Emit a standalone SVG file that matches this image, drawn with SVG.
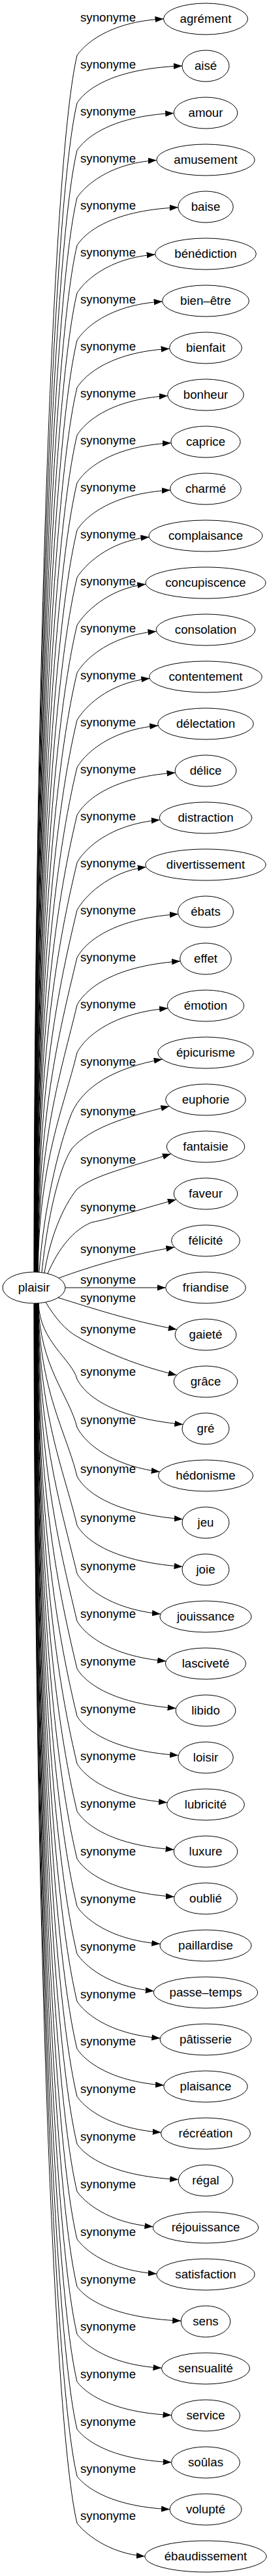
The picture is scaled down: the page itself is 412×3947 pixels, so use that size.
<svg xmlns="http://www.w3.org/2000/svg" width="412" height="3947" viewBox="0 0 412 3947">
<style>
text{font-family:"Liberation Sans",Arial,sans-serif;font-size:18.67px;fill:#000;text-anchor:middle}
.n ellipse{fill:none;stroke:#000;stroke-width:1}
#edges path{fill:none;stroke:#000;stroke-width:1;marker-end:url(#arr)}
</style>
<defs>
<marker id="arr" markerUnits="userSpaceOnUse" markerWidth="14" markerHeight="10" refX="13" refY="4.67" orient="auto"><path d="M0,0L13,4.67L0,9.33z" fill="#000"/></marker>
</defs>
<rect width="412" height="3947" fill="#fff"/>
<g id="edges">
<path d="M52,1949 C53,1017 82,235 118,85 C128,70 165,33 250.5,29"/>
<path d="M52.3,1949 C53.3,1053 82,308 118,158 C128,142 165,105 279,101"/>
<path d="M52.6,1949 C53.6,1090 82,380 118,230.5 C128,215 165,178 266.2,173.4"/>
<path d="M52.9,1949 C53.9,1126 82,453 118,303 C128,287.5 165,250 239.8,245.6"/>
<path d="M53.2,1949 C54.2,1162 82,526 118,376 C128,360 165,322.5 272.8,317.8"/>
<path d="M53.5,1949 C54.5,1199 82,599 118,449 C128,432.6 165,395 237.6,390"/>
<path d="M53.8,1949 C54.8,1235 82,671.5 118,521.5 C128,505 165,467 248.6,462"/>
<path d="M54.1,1949 C55.1,1271.6 82,744 118,594 C128,577.7 165,539.6 259.6,534.3"/>
<path d="M54.4,1949 C55.4,1308 82,817 118,667 C128,650 165,612 256.8,606.5"/>
<path d="M54.7,1949 C55.7,1344 82,890 118,740 C128,723 165,684 261.9,678.7"/>
<path d="M55,1949 C56,1381 82,962.5 118,812.5 C128,795.4 165,756.8 260.9,750.9"/>
<path d="M55.3,1949 C56.3,1417 82,1035 118,885 C128,868 165,829 228.4,823"/>
<path d="M55.6,1949 C56.6,1453.5 82,1108 118,958 C128,940.5 165,901.5 223.4,895.2"/>
<path d="M55.9,1949 C56.9,1490 82,1181 118,1031 C128,1013 165,974 239.5,967.4"/>
<path d="M56.2,1949 C57.2,1526 82,1253.5 118,1103.5 C128,1085.5 165,1046 229.3,1039.6"/>
<path d="M56.5,1949 C57.5,1562.6 82,1326 118,1176 C128,1158 165,1118.6 242.2,1111.8"/>
<path d="M56.8,1949 C57.8,1599 82,1399 118,1249 C128,1230.6 165,1191 268.5,1184"/>
<path d="M57.1,1949 C58.1,1635.4 82,1471.8 118,1321.8 C128,1303.2 165,1263.4 244.8,1256.2"/>
<path d="M57.4,1949 C58.4,1671.8 84.7,1533 118,1394.5 C128,1375.7 165,1335.8 223.8,1328.4"/>
<path d="M57.7,1949 C58.7,1708 89.1,1587.7 118,1467.3 C128,1448.3 165,1408.1 273,1400.6"/>
<path d="M58,1949 C59,1744.5 93.5,1642.3 118,1540 C128,1520.8 165,1480.5 276.2,1472.8"/>
<path d="M58.3,1949 C59.3,1780.9 97.8,1696.8 118,1612.8 C128,1593.4 165,1552.9 257.1,1544.9"/>
<path d="M60,1949.3 C66,1860 88,1760 110,1705 C128,1665 175,1636 248.6,1623"/>
<path d="M64,1949.8 C72,1870 90,1790 110,1760 C138,1728 190,1712 259.3,1695"/>
<path d="M68,1950.4 C76,1900 95,1850 118,1822 C145,1800 200,1788 261.8,1768"/>
<path d="M73,1951.4 C90,1912 112,1885 140,1873 C175,1866 225,1850 269.8,1838"/>
<path d="M90,1958.3 C140,1940 200,1922 267.4,1911"/>
<path d="M100,1973 L253.7,1973"/>
<path d="M89,1988.3 C140,2004 200,2024 270.8,2037"/>
<path d="M70,1995.3 C85,2020 100,2038 120,2049 C150,2066 200,2090 270.6,2107"/>
<path d="M59.2,1997 C60.2,2055 111,2084 118,2113 C128,2133.5 165,2172 280.3,2182.5"/>
<path d="M58.9,1997 C59.9,2092 106.6,2139.5 118,2187 C128,2207 165,2245 244.7,2255"/>
<path d="M58.6,1997 C59.6,2129.5 102.1,2195.7 118,2262 C128,2281.2 165,2318.5 279.9,2327.8"/>
<path d="M58.3,1997 C59.3,2167 97.6,2252 118,2337 C128,2355.4 165,2392 279.6,2400.5"/>
<path d="M58,1997 C59,2204 93.2,2307.5 118,2411 C128,2428.8 165,2465 245.9,2473"/>
<path d="M57.7,1997 C58.7,2240.4 88.8,2362.1 118,2483.8 C128,2501.4 165,2537.4 254.2,2545.2"/>
<path d="M57.4,1997 C58.4,2276.9 84.4,2416.7 118,2556.7 C128,2574.1 165,2609.9 269.6,2617.4"/>
<path d="M57.1,1997 C58.1,2313.3 82,2479.5 118,2629.5 C128,2646.6 165,2682.3 273.2,2689.6"/>
<path d="M56.8,1997 C57.8,2349.7 82,2552.3 118,2702.3 C128,2719.2 165,2754.7 256.1,2761.8"/>
<path d="M56.5,1997 C57.5,2386.1 82,2625.2 118,2775.2 C128,2791.9 165,2827.1 266.6,2834"/>
<path d="M56.2,1997 C57.2,2422.5 82,2698 118,2848 C128,2864.5 165,2899.5 266.9,2906.3"/>
<path d="M55.9,1997 C56.9,2458.9 82,2770.8 118,2920.8 C128,2937.1 165,2971.9 245.3,2978.5"/>
<path d="M55.6,1997 C56.6,2495.4 82,2843.7 118,2993.7 C128,3009.7 165,3044.4 235.8,3050.7"/>
<path d="M55.3,1997 C56.3,2531.8 82,2916.5 118,3066.5 C128,3082.3 165,3116.8 245.3,3122.9"/>
<path d="M55,1997 C56,2568.2 82,2989.3 118,3139.3 C128,3154.9 165,3189.2 251,3195.1"/>
<path d="M54.7,1997 C55.7,2604.6 82,3062.2 118,3212.2 C128,3227.5 165,3261.6 246.7,3267.3"/>
<path d="M54.4,1997 C55.4,2641 82,3135 118,3285 C128,3300.1 165,3334 273.3,3339.5"/>
<path d="M54.1,1997 C55.1,2677.4 82,3207.8 118,3357.8 C128,3372.7 165,3406.4 234.4,3411.7"/>
<path d="M53.8,1997 C54.8,2713.9 82,3280.7 118,3430.7 C128,3445.4 165,3478.9 239.9,3483.9"/>
<path d="M53.5,1997 C54.5,2750.3 82,3353.5 118,3503.5 C128,3517.9 165,3551.3 277.2,3556.1"/>
<path d="M53.2,1997 C54.2,2786.7 82,3426.3 118,3576.3 C128,3590.5 165,3623.7 247.5,3628.3"/>
<path d="M52.9,1997 C53.9,2823.1 82,3499.2 118,3649.2 C128,3663.2 165,3696.1 262.5,3700.6"/>
<path d="M52.6,1997 C53.6,2859.5 82,3572 118,3722 C128,3735.8 165,3768.5 262.6,3772.8"/>
<path d="M52.3,1997 C53.3,2895.5 82,3644 118,3794 C128,3807.8 165,3840.5 260,3844.8"/>
<path d="M52,1997 C53,2931.5 82,3716 118,3866 C128,3879.8 165,3912.5 221.9,3916.8"/>
</g>
<g id="edge-labels">
<text x="165.5" y="33">synonyme</text>
<text x="165.5" y="105">synonyme</text>
<text x="165.5" y="177">synonyme</text>
<text x="165.5" y="249">synonyme</text>
<text x="165.5" y="321">synonyme</text>
<text x="165.5" y="393">synonyme</text>
<text x="165.5" y="465">synonyme</text>
<text x="165.5" y="537">synonyme</text>
<text x="165.5" y="609">synonyme</text>
<text x="165.5" y="681">synonyme</text>
<text x="165.5" y="753">synonyme</text>
<text x="165.5" y="825">synonyme</text>
<text x="165.5" y="897">synonyme</text>
<text x="165.5" y="969">synonyme</text>
<text x="165.5" y="1041">synonyme</text>
<text x="165.5" y="1113">synonyme</text>
<text x="165.5" y="1185">synonyme</text>
<text x="165.5" y="1257">synonyme</text>
<text x="165.5" y="1329">synonyme</text>
<text x="165.5" y="1401">synonyme</text>
<text x="165.5" y="1473">synonyme</text>
<text x="165.5" y="1545">synonyme</text>
<text x="165.5" y="1633">synonyme</text>
<text x="165.5" y="1709">synonyme</text>
<text x="165.5" y="1783">synonyme</text>
<text x="165.5" y="1856">synonyme</text>
<text x="165.5" y="1920">synonyme</text>
<text x="165.5" y="1966.7">synonyme</text>
<text x="165.5" y="1995">synonyme</text>
<text x="165.5" y="2043">synonyme</text>
<text x="165.5" y="2108">synonyme</text>
<text x="165.5" y="2182">synonyme</text>
<text x="165.5" y="2257">synonyme</text>
<text x="165.5" y="2332">synonyme</text>
<text x="165.5" y="2406">synonyme</text>
<text x="165.5" y="2478.8">synonyme</text>
<text x="165.5" y="2551.7">synonyme</text>
<text x="165.5" y="2624.5">synonyme</text>
<text x="165.5" y="2697.3">synonyme</text>
<text x="165.5" y="2770.2">synonyme</text>
<text x="165.5" y="2843">synonyme</text>
<text x="165.5" y="2915.8">synonyme</text>
<text x="165.5" y="2988.7">synonyme</text>
<text x="165.5" y="3061.5">synonyme</text>
<text x="165.5" y="3134.3">synonyme</text>
<text x="165.5" y="3207.2">synonyme</text>
<text x="165.5" y="3280">synonyme</text>
<text x="165.5" y="3352.8">synonyme</text>
<text x="165.5" y="3425.7">synonyme</text>
<text x="165.5" y="3498.5">synonyme</text>
<text x="165.5" y="3571.3">synonyme</text>
<text x="165.5" y="3644.2">synonyme</text>
<text x="165.5" y="3717">synonyme</text>
<text x="165.5" y="3789">synonyme</text>
<text x="165.5" y="3861">synonyme</text>
</g>
<g id="n-plaisir" class="n"><ellipse cx="52" cy="1973" rx="48" ry="24"/><text x="52" y="1979">plaisir</text></g>
<g id="n-agrement" class="n"><ellipse cx="315" cy="29" rx="64.5" ry="24"/><text x="315" y="35">agrément</text></g>
<g id="n-aise" class="n"><ellipse cx="315" cy="101" rx="36" ry="24"/><text x="315" y="107">aisé</text></g>
<g id="n-amour" class="n"><ellipse cx="315" cy="173" rx="48.8" ry="24"/><text x="315" y="179">amour</text></g>
<g id="n-amusement" class="n"><ellipse cx="315" cy="245" rx="75.2" ry="24"/><text x="315" y="251">amusement</text></g>
<g id="n-baise" class="n"><ellipse cx="315" cy="317" rx="42.2" ry="24"/><text x="315" y="323">baise</text></g>
<g id="n-benediction" class="n"><ellipse cx="315" cy="389" rx="77.4" ry="24"/><text x="315" y="395">bénédiction</text></g>
<g id="n-bien-etre" class="n"><ellipse cx="315" cy="461" rx="66.4" ry="24"/><text x="315" y="467">bien–être</text></g>
<g id="n-bienfait" class="n"><ellipse cx="315" cy="533" rx="55.4" ry="24"/><text x="315" y="539">bienfait</text></g>
<g id="n-bonheur" class="n"><ellipse cx="315" cy="605" rx="58.3" ry="24"/><text x="315" y="611">bonheur</text></g>
<g id="n-caprice" class="n"><ellipse cx="315" cy="677" rx="53.2" ry="24"/><text x="315" y="683">caprice</text></g>
<g id="n-charme" class="n"><ellipse cx="315" cy="749" rx="54.3" ry="24"/><text x="315" y="755">charmé</text></g>
<g id="n-complaisance" class="n"><ellipse cx="315" cy="821" rx="86.9" ry="24"/><text x="315" y="827">complaisance</text></g>
<g id="n-concupiscence" class="n"><ellipse cx="315" cy="893" rx="92" ry="24"/><text x="315" y="899">concupiscence</text></g>
<g id="n-consolation" class="n"><ellipse cx="315" cy="965" rx="75.9" ry="24"/><text x="315" y="971">consolation</text></g>
<g id="n-contentement" class="n"><ellipse cx="315" cy="1037" rx="86.2" ry="24"/><text x="315" y="1043">contentement</text></g>
<g id="n-delectation" class="n"><ellipse cx="315" cy="1109" rx="73.3" ry="24"/><text x="315" y="1115">délectation</text></g>
<g id="n-delice" class="n"><ellipse cx="315" cy="1181" rx="46.9" ry="24"/><text x="315" y="1187">délice</text></g>
<g id="n-distraction" class="n"><ellipse cx="315" cy="1253" rx="70.8" ry="24"/><text x="315" y="1259">distraction</text></g>
<g id="n-divertissement" class="n"><ellipse cx="315" cy="1325" rx="92.1" ry="24"/><text x="315" y="1331">divertissement</text></g>
<g id="n-ebats" class="n"><ellipse cx="315" cy="1397" rx="42.5" ry="24"/><text x="315" y="1403">ébats</text></g>
<g id="n-effet" class="n"><ellipse cx="315" cy="1469" rx="39.3" ry="24"/><text x="315" y="1475">effet</text></g>
<g id="n-emotion" class="n"><ellipse cx="315" cy="1541" rx="58.7" ry="24"/><text x="315" y="1547">émotion</text></g>
<g id="n-epicurisme" class="n"><ellipse cx="315" cy="1613" rx="73.3" ry="24"/><text x="315" y="1619">épicurisme</text></g>
<g id="n-euphorie" class="n"><ellipse cx="315" cy="1685" rx="61.3" ry="24"/><text x="315" y="1691">euphorie</text></g>
<g id="n-fantaisie" class="n"><ellipse cx="315" cy="1757" rx="59.8" ry="24"/><text x="315" y="1763">fantaisie</text></g>
<g id="n-faveur" class="n"><ellipse cx="315" cy="1829" rx="48.8" ry="24"/><text x="315" y="1835">faveur</text></g>
<g id="n-felicite" class="n"><ellipse cx="315" cy="1901" rx="52.4" ry="24"/><text x="315" y="1907">félicité</text></g>
<g id="n-friandise" class="n"><ellipse cx="315" cy="1973" rx="61.3" ry="24"/><text x="315" y="1979">friandise</text></g>
<g id="n-gaiete" class="n"><ellipse cx="315" cy="2045" rx="46.9" ry="24"/><text x="315" y="2051">gaieté</text></g>
<g id="n-grace" class="n"><ellipse cx="315" cy="2117" rx="48.8" ry="24"/><text x="315" y="2123">grâce</text></g>
<g id="n-gre" class="n"><ellipse cx="315" cy="2189" rx="36" ry="24"/><text x="315" y="2195">gré</text></g>
<g id="n-hedonisme" class="n"><ellipse cx="315" cy="2261" rx="72.6" ry="24"/><text x="315" y="2267">hédonisme</text></g>
<g id="n-jeu" class="n"><ellipse cx="315" cy="2333" rx="36" ry="24"/><text x="315" y="2339">jeu</text></g>
<g id="n-joie" class="n"><ellipse cx="315" cy="2405" rx="36" ry="24"/><text x="315" y="2411">joie</text></g>
<g id="n-jouissance" class="n"><ellipse cx="315" cy="2477" rx="70.1" ry="24"/><text x="315" y="2483">jouissance</text></g>
<g id="n-lascivete" class="n"><ellipse cx="315" cy="2549" rx="61.6" ry="24"/><text x="315" y="2555">lasciveté</text></g>
<g id="n-libido" class="n"><ellipse cx="315" cy="2621" rx="45.9" ry="24"/><text x="315" y="2627">libido</text></g>
<g id="n-loisir" class="n"><ellipse cx="315" cy="2693" rx="42.2" ry="24"/><text x="315" y="2699">loisir</text></g>
<g id="n-lubricite" class="n"><ellipse cx="315" cy="2765" rx="59.4" ry="24"/><text x="315" y="2771">lubricité</text></g>
<g id="n-luxure" class="n"><ellipse cx="315" cy="2837" rx="48.8" ry="24"/><text x="315" y="2843">luxure</text></g>
<g id="n-oublie" class="n"><ellipse cx="315" cy="2909" rx="48.4" ry="24"/><text x="315" y="2915">oublié</text></g>
<g id="n-paillardise" class="n"><ellipse cx="315" cy="2981" rx="70.1" ry="24"/><text x="315" y="2987">paillardise</text></g>
<g id="n-passe-temps" class="n"><ellipse cx="315" cy="3053" rx="79.6" ry="24"/><text x="315" y="3059">passe–temps</text></g>
<g id="n-patisserie" class="n"><ellipse cx="315" cy="3125" rx="70" ry="24"/><text x="315" y="3131">pâtisserie</text></g>
<g id="n-plaisance" class="n"><ellipse cx="315" cy="3197" rx="64.2" ry="24"/><text x="315" y="3203">plaisance</text></g>
<g id="n-recreation" class="n"><ellipse cx="315" cy="3269" rx="68.5" ry="24"/><text x="315" y="3275">récréation</text></g>
<g id="n-regal" class="n"><ellipse cx="315" cy="3341" rx="41.8" ry="24"/><text x="315" y="3347">régal</text></g>
<g id="n-rejouissance" class="n"><ellipse cx="315" cy="3413" rx="80.7" ry="24"/><text x="315" y="3419">réjouissance</text></g>
<g id="n-satisfaction" class="n"><ellipse cx="315" cy="3485" rx="75.2" ry="24"/><text x="315" y="3491">satisfaction</text></g>
<g id="n-sens" class="n"><ellipse cx="315" cy="3557" rx="37.8" ry="24"/><text x="315" y="3563">sens</text></g>
<g id="n-sensualite" class="n"><ellipse cx="315" cy="3629" rx="67.5" ry="24"/><text x="315" y="3635">sensualité</text></g>
<g id="n-service" class="n"><ellipse cx="315" cy="3701" rx="52.5" ry="24"/><text x="315" y="3707">service</text></g>
<g id="n-soulas" class="n"><ellipse cx="315" cy="3773" rx="52.4" ry="24"/><text x="315" y="3779">soûlas</text></g>
<g id="n-volupte" class="n"><ellipse cx="315" cy="3845" rx="55" ry="24"/><text x="315" y="3851">volupté</text></g>
<g id="n-ebaudissement" class="n"><ellipse cx="315" cy="3917" rx="93.1" ry="24"/><text x="315" y="3923">ébaudissement</text></g>
</svg>
